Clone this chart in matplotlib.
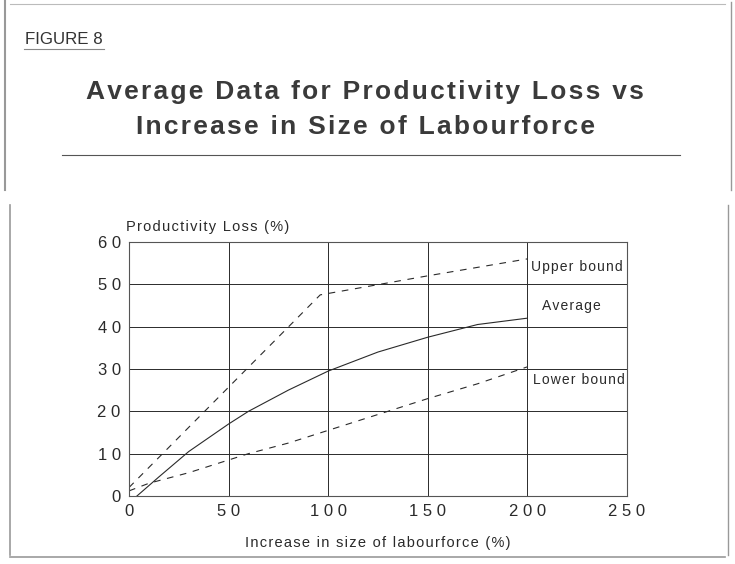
import numpy as np
import matplotlib.pyplot as plt
from matplotlib.lines import Line2D

plt.rcParams['font.family'] = ['Liberation Sans', 'DejaVu Sans']

# data
upper_x = [0, 96, 150, 200]
upper_y = [2, 47.5, 52, 56]

avg_x = [4, 15, 30, 50, 60, 80, 100, 125, 150, 175, 200]
avg_y = [0, 4.5, 10.5, 17, 20, 25, 29.5, 34, 37.5, 40.5, 42]

lower_x = [0, 10, 30, 50, 60, 80, 100, 130, 150, 175, 200]
lower_y = [1.2, 3, 5.5, 8.5, 10, 12.5, 15.5, 20, 23, 26.5, 30.5]

xticks = [0, 50, 100, 150, 200, 250]
yticks = [0, 10, 20, 30, 40, 50, 60]

ink = '#2a2a2a'


def spaced(s):
    # the typewriter-ish letter spacing of the original
    return '\u200a'.join(s)


fig = plt.figure(figsize=(7.35, 5.64), dpi=100)
ax = fig.add_axes([0.1755, 0.1206, 0.853 - 0.1755, 0.571 - 0.1206])

ax.plot(upper_x, upper_y, color=ink, lw=0.8, dashes=(6, 6))
ax.plot(avg_x, avg_y, color=ink, lw=0.8)
ax.plot(lower_x, lower_y, color=ink, lw=0.8, dashes=(6, 6))

ax.set_xlim(0, 250)
ax.set_ylim(0, 60)
ax.set_xticks(xticks)
ax.set_yticks(yticks)
ax.set_xticklabels([' '.join(str(v)) for v in xticks])
ax.set_yticklabels([' '.join(str(v)) for v in yticks])
ax.tick_params(length=0, labelsize=12, labelcolor=ink)
ax.tick_params(axis='x', pad=6)
ax.tick_params(axis='y', pad=6)
ax.grid(True, color=ink, lw=0.7)
for s in ax.spines.values():
    s.set_color('#555555')
    s.set_linewidth(0.8)

ax.text(202, 54, spaced('Upper bound'), fontsize=10, color=ink, va='center')
ax.text(207.5, 44.8, spaced('Average'), fontsize=10, color=ink, va='center')
ax.text(203, 27.5, spaced('Lower bound'), fontsize=10, color=ink, va='center')

ax.text(-1.5, 63.5, spaced('Productivity Loss (%)'), fontsize=10.5, color=ink, va='center')
ax.set_xlabel(spaced('Increase in size of labourforce (%)'), fontsize=10.5, color=ink, labelpad=12)

# titles and page furniture
fig.text(25 / 735, 1 - 39 / 564, 'FIGURE 8', fontsize=12.2, color='#333333', va='center')
fig.add_artist(Line2D([24 / 735, 104 / 735], [1 - 49 / 564] * 2, color='#888888', lw=0.8))
fig.text(0.497, 1 - 92 / 564, spaced('Average Data for Productivity Loss vs'), fontsize=19,
         color='#3a3a3a', ha='center', va='center', fontweight='bold')
fig.text(0.497, 1 - 127 / 564, spaced('Increase in Size of Labourforce'), fontsize=19,
         color='#3a3a3a', ha='center', va='center', fontweight='bold')
fig.add_artist(Line2D([62 / 735, 680 / 735], [1 - 155 / 564] * 2, color='#555555', lw=0.8))

# scanned frame
frame = '#999999'
fig.add_artist(Line2D([5 / 735, 5 / 735], [1 - 190 / 564, 1.0], color=frame, lw=1.5))
fig.add_artist(Line2D([10 / 735, 10 / 735], [1 - 555 / 564, 1 - 205 / 564], color=frame, lw=1.2))
fig.add_artist(Line2D([10 / 735, 725 / 735], [1 - 557 / 564] * 2, color=frame, lw=1.2))
fig.add_artist(Line2D([10 / 735, 725 / 735], [1 - 4 / 564] * 2, color='#bbbbbb', lw=0.8))
fig.add_artist(Line2D([728 / 735, 728 / 735], [1 - 555 / 564, 1 - 205 / 564], color=frame, lw=1.0))
fig.add_artist(Line2D([731 / 735, 731 / 735], [1 - 190 / 564, 1 - 2 / 564], color=frame, lw=1.0))

fig.savefig('out.png', dpi=100)
